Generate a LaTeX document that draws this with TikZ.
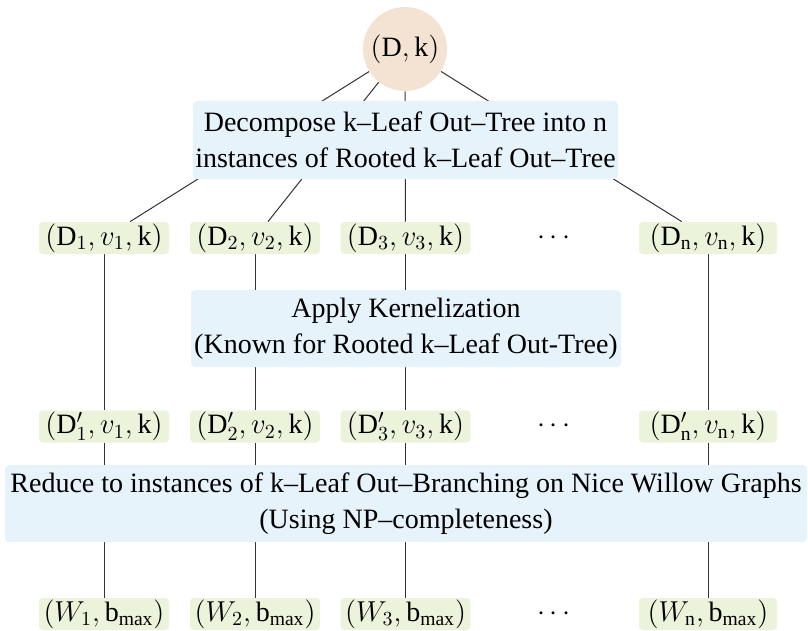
\documentclass[tikz,border=0pt]{standalone}
\usepackage{fontspec}
\setmainfont{Liberation Serif}
\usetikzlibrary{backgrounds}
\definecolor{boxblue}{HTML}{E6F3FA}
\definecolor{leafgreen}{HTML}{EBF3DA}
\definecolor{rootpeach}{HTML}{F4E3D3}
\newcommand{\ur}[1]{\mathrm{#1}}
\tikzset{
  every node/.style={font=\fontsize{14}{18}\selectfont},
  stepbox/.style={fill=boxblue, rounded corners=2pt, align=center, inner sep=0pt},
  inst/.style={fill=leafgreen, rounded corners=2pt, minimum height=16pt, inner sep=0pt, minimum width=65pt},
  rootnode/.style={circle, fill=rootpeach, minimum size=42pt, inner sep=0pt},
  link/.style={draw=black!80, line width=0.5pt},
}
\begin{document}
\begin{tikzpicture}[x=0.5pt,y=-0.5pt]
\useasboundingbox (0,0) rectangle (808,631);
% root
\node[rootnode] (root) at (405,49) {$(\ur{D},\ur{k})$};
% step boxes
\node[stepbox, minimum width=212.5pt, minimum height=39pt] (dec) at (405.5,140) {Decompose $\ur{k}$--Leaf Out--Tree into $\ur{n}$\\instances of Rooted $\ur{k}$--Leaf Out--Tree};
\node[stepbox, minimum width=215pt, minimum height=38.5pt] (ker) at (406,328.5) {Apply Kernelization\\(Known for Rooted $\ur{k}$--Leaf Out-Tree)};
\node[stepbox, minimum width=401pt, minimum height=38.5pt] (red) at (406,503.5) {Reduce to instances of $\ur{k}$--Leaf Out--Branching on Nice Willow Graphs\\(Using NP--completeness)};
% row 1
\node[inst] (a1) at (104,238) {$(\ur{D}_1, v_1, \ur{k})$};
\node[inst] (a2) at (255,238) {$(\ur{D}_2, v_2, \ur{k})$};
\node[inst] (a3) at (405.5,238) {$(\ur{D}_3, v_3, \ur{k})$};
\node (ad) at (554,238) {$\cdots$};
\node[inst, minimum width=69pt] (an) at (708,238) {$(\ur{D}_\ur{n}, v_\ur{n}, \ur{k})$};
% row 2
\node[inst] (b1) at (104,426.5) {$(\ur{D}'_1, v_1, \ur{k})$};
\node[inst] (b2) at (255,426.5) {$(\ur{D}'_2, v_2, \ur{k})$};
\node[inst] (b3) at (405.5,426.5) {$(\ur{D}'_3, v_3, \ur{k})$};
\node (bd) at (554,426.5) {$\cdots$};
\node[inst, minimum width=69pt] (bn) at (708,426.5) {$(\ur{D}'_\ur{n}, v_\ur{n}, \ur{k})$};
% row 3
\node[inst] (c1) at (104,614) {$(W_1, \ur{b}_{\max})$};
\node[inst] (c2) at (255,614) {$(W_2, \ur{b}_{\max})$};
\node[inst] (c3) at (405.5,614) {$(W_3, \ur{b}_{\max})$};
\node (cd) at (554,614) {$\cdots$};
\node[inst, minimum width=69pt] (cn) at (708,614) {$(W_\ur{n}, \ur{b}_{\max})$};
\begin{pgfonlayer}{background}
\foreach \i in {1,2,3,n} {
  \draw[link] (root) -- (a\i);
  \draw[link] (a\i) -- (b\i);
  \draw[link] (b\i) -- (c\i);
}
\end{pgfonlayer}
\end{tikzpicture}
\end{document}
